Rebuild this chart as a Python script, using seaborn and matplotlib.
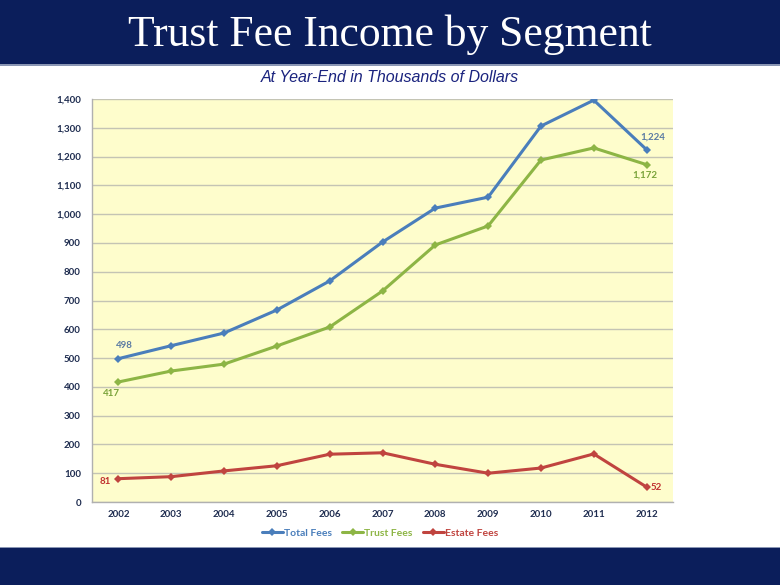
import matplotlib
matplotlib.use("Agg")
import matplotlib.pyplot as plt
import seaborn as sns
import pandas as pd
from matplotlib.patches import Rectangle
from matplotlib.lines import Line2D
from matplotlib.ticker import FuncFormatter, MultipleLocator

years = [2002, 2003, 2004, 2005, 2006, 2007, 2008, 2009, 2010, 2011, 2012]
total_fees = [498, 543, 587, 667, 768, 903, 1021, 1059, 1306, 1396, 1224]
trust_fees = [417, 455, 479, 542, 608, 733, 893, 959, 1188, 1230, 1172]
estate_fees = [81, 88, 108, 126, 166, 171, 131, 100, 118, 167, 52]
series_names = ["Total Fees", "Trust Fees", "Estate Fees"]
colors = ["#4a7ebb", "#8db545", "#c0443f"]
label_colors = ["#5a7aa3", "#7aa33a", "#c0302f"]

df = pd.concat([
    pd.DataFrame({"Year": years, "Value": vals, "Series": name})
    for name, vals in zip(series_names, [total_fees, trust_fees, estate_fees])
])

sns.set_theme(style="white")
plt.rcParams["font.family"] = ["Lato", "DejaVu Sans"]

fig = plt.figure(figsize=(7.8, 5.85), dpi=100)
fig.patch.set_facecolor("white")

# header & footer bands
navy = "#0b1e5b"
fig.add_artist(Rectangle((0, 1 - 64 / 585), 1, 64 / 585, transform=fig.transFigure,
                         facecolor=navy, edgecolor="none", zorder=0))
fig.add_artist(Rectangle((0, 1 - 66 / 585), 1, 2 / 585, transform=fig.transFigure,
                         facecolor="#8a96b4", edgecolor="none", zorder=0))
fig.add_artist(Rectangle((0, 0), 1, 37 / 585, transform=fig.transFigure,
                         facecolor=navy, edgecolor="none", zorder=0))
fig.add_artist(Rectangle((0, 37 / 585), 1, 1.5 / 585, transform=fig.transFigure,
                         facecolor="#8a96b4", edgecolor="none", zorder=0))

fig.text(0.5, 1 - 35 / 585, "Trust Fee Income by Segment", ha="center", va="center",
         color="white", fontsize=31.4, family=["Liberation Serif", "DejaVu Serif"])
fig.text(0.5, 1 - 77 / 585, "At Year-End in Thousands of Dollars", ha="center", va="center",
         color="#1a237e", fontsize=11.5, style="italic",
         family=["Liberation Sans", "DejaVu Sans"])

ax = fig.add_axes([92 / 780, 83 / 585, (673 - 92) / 780, (502 - 99) / 585])
ax.set_facecolor("#fefdcc")

sns.lineplot(data=df, x="Year", y="Value", hue="Series", hue_order=series_names,
             palette=colors, marker="D", markersize=4, markeredgewidth=0,
             linewidth=2.2, ax=ax, legend=False)

ax.set_xlim(2001.5, 2012.5)
ax.set_ylim(0, 1400)
ax.yaxis.set_major_locator(MultipleLocator(100))
ax.yaxis.set_major_formatter(FuncFormatter(lambda v, p: f"{int(v):,}"))
ax.set_xticks(years)
ax.set_xticklabels([str(y) for y in years])
ax.set_xlabel("")
ax.set_ylabel("")
ax.grid(axis="y", color="#c4c4b4", linewidth=1)
ax.set_axisbelow(True)
for s in ["top", "right"]:
    ax.spines[s].set_visible(False)
for s in ["left", "bottom"]:
    ax.spines[s].set_color("#b0b0b0")
    ax.spines[s].set_linewidth(1)
ax.tick_params(axis="both", labelsize=7, colors="#1f2d50", length=0, pad=6)
for t in ax.get_xticklabels() + ax.get_yticklabels():
    t.set_fontweight("bold")
    t.set_color("#1f2d50")
ax.set_xticks([y + 0.5 for y in [2001] + years], minor=True)
ax.tick_params(axis="x", which="minor", length=4, color="#b0b0b0", direction="out")
ax.tick_params(axis="y", which="major", length=4, color="#b0b0b0", direction="out")
ax.tick_params(axis="y", which="major", pad=4)

# data labels
lblkw = dict(fontsize=7, fontweight="bold", textcoords="offset points", va="center")
ax.annotate(f"{total_fees[0]:,}", (years[0], total_fees[0]), xytext=(4, 9.5),
            ha="center", color=label_colors[0], **lblkw)
ax.annotate(f"{trust_fees[0]:,}", (years[0], trust_fees[0]), xytext=(-5, -8),
            ha="center", color=label_colors[1], **lblkw)
ax.annotate(f"{estate_fees[0]:,}", (years[0], estate_fees[0]), xytext=(-9.5, -2),
            ha="center", color=label_colors[2], **lblkw)
ax.annotate(f"{total_fees[-1]:,}", (years[-1], total_fees[-1]), xytext=(4.5, 9),
            ha="center", color=label_colors[0], **lblkw)
ax.annotate(f"{trust_fees[-1]:,}", (years[-1], trust_fees[-1]), xytext=(-1.5, -7.5),
            ha="center", color=label_colors[1], **lblkw)
ax.annotate(f"{estate_fees[-1]:,}", (years[-1], estate_fees[-1]), xytext=(3, -0.5),
            ha="left", color=label_colors[2], **lblkw)

handles = [Line2D([0], [0], color=c, lw=2.2, marker="D", markersize=4, markeredgewidth=0)
           for c in colors]
leg = fig.legend(handles, series_names, loc="center", bbox_to_anchor=(0.487, 1 - 533 / 585),
                 ncol=3, frameon=False, fontsize=7.5, handlelength=2.0, handletextpad=0.1,
                 columnspacing=1.0)
for txt, c in zip(leg.get_texts(), colors):
    txt.set_color(c)
    txt.set_fontweight("bold")

fig.savefig("out.png", dpi=100)
